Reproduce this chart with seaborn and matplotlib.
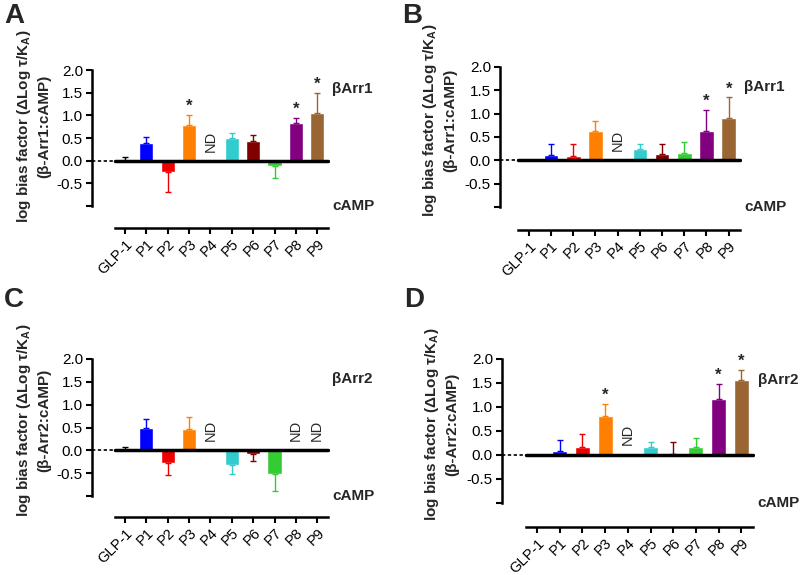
import numpy as np
import pandas as pd
import matplotlib
matplotlib.use("Agg")
import matplotlib.pyplot as plt
import seaborn as sns

# peptides and colours
categories = ["GLP-1", "P1", "P2", "P3", "P4", "P5", "P6", "P7", "P8", "P9"]
colors = ["#000000", "#0000FF", "#EE0000", "#FF8000", "#808080",
          "#33CCCC", "#800000", "#33CC33", "#800080", "#996633"]
nan = np.nan

# A: bArr1 vs cAMP (set 1)
a_mean = [0.0, 0.40, -0.25, 0.79, nan, 0.49, 0.43, -0.12, 0.84, 1.06]
a_err = [0.07, 0.13, 0.45, 0.22, nan, 0.13, 0.14, 0.27, 0.11, 0.43]
a_sig = ["P3", "P8", "P9"]
a_nd = ["P4"]

# B: bArr1 vs cAMP (set 2)
b_mean = [0.0, 0.11, 0.09, 0.63, nan, 0.24, 0.14, 0.16, 0.63, 0.90]
b_err = [0.0, 0.23, 0.27, 0.22, nan, 0.12, 0.20, 0.24, 0.45, 0.45]
b_sig = ["P8", "P9"]
b_nd = ["P4"]

# C: bArr2 vs cAMP (set 1)
c_mean = [0.0, 0.48, -0.28, 0.46, nan, -0.33, -0.07, -0.51, nan, nan]
c_err = [0.07, 0.20, 0.26, 0.28, nan, 0.18, 0.17, 0.37, nan, nan]
c_sig = []
c_nd = ["P4", "P8", "P9"]

# D: bArr2 vs cAMP (set 2)
d_mean = [0.0, 0.08, 0.16, 0.82, nan, 0.16, 0.03, 0.16, 1.17, 1.57]
d_err = [0.0, 0.23, 0.27, 0.24, nan, 0.12, 0.25, 0.19, 0.31, 0.21]
d_sig = ["P3", "P8", "P9"]
d_nd = ["P4"]

sns.set_style("ticks")
plt.rcParams["font.family"] = ["Liberation Sans", "DejaVu Sans"]
plt.rcParams["mathtext.fontset"] = "custom"
plt.rcParams["mathtext.rm"] = "Liberation Sans"
plt.rcParams["mathtext.bf"] = "Liberation Sans:bold"

W, H = 800, 575
fig = plt.figure(figsize=(8, 5.75), dpi=100)

# layout in pixels: left, top, right, bottom(y=-1), xleft, outward, ylabel centre, letter
panels = [
    ("A", a_mean, a_err, a_sig, a_nd, "1", (92, 70, 330, 206), -1.55, 22, (33, 126), (4, 3)),
    ("B", b_mean, b_err, b_sig, b_nd, "1", (500, 67, 742, 207), -1.30, 23, (439, 120), (402, 3)),
    ("C", c_mean, c_err, c_sig, c_nd, "2", (92, 359, 330, 496), -1.55, 21, (33, 420), (4, 287)),
    ("D", d_mean, d_err, d_sig, d_nd, "2", (502, 359, 755, 503), -1.54, 24, (441, 424), (404, 287)),
]

for letter, mean, err, sig, nd, arr, box, xleft, outward, ylab, lpos in panels:
    l, t, r, b = box
    ax = fig.add_axes([l / W, 1 - b / H, (r - l) / W, (b - t) / H])
    df = pd.DataFrame({"peptide": categories, "bias": mean})
    sns.barplot(data=df, x="peptide", y="bias", order=categories, hue="peptide",
                hue_order=categories, palette=dict(zip(categories, colors)),
                legend=False, errorbar=None, width=0.66, saturation=1, ax=ax)

    # one-sided error bars
    for i, (m, e) in enumerate(zip(mean, err)):
        if np.isnan(m) or e == 0:
            continue
        yerr = [[0], [e]] if m >= 0 else [[e], [0]]
        ax.errorbar(i, m, yerr=yerr, color=colors[i], lw=1, capsize=2.5,
                    capthick=1, zorder=1)
        if categories[i] in sig:
            ax.text(i, m + e + 0.02, "*", ha="center", va="bottom",
                    fontsize=12, fontweight="bold")
    for p in nd:
        ax.text(categories.index(p), 0.2, "ND", rotation=90, ha="center",
                va="bottom", fontsize=10.5)

    ax.plot([-0.47, 9.52], [0, 0], color="black", lw=2.5, zorder=5)
    ax.plot([xleft, -0.47], [0, 0], color="black", lw=1.2,
            linestyle=(0, (2, 1.5)), zorder=5)

    # spines first (set_position resets the ticks)
    for s in ["top", "right"]:
        ax.spines[s].set_visible(False)
    ax.spines["bottom"].set_position(("outward", outward * 0.72))
    ax.spines["left"].set_bounds(-1, 2)
    ax.spines["bottom"].set_bounds(-0.47, 9.52)
    for s in ["left", "bottom"]:
        ax.spines[s].set_linewidth(1.8)
        ax.spines[s].set_color("black")
    ax.patch.set_visible(False)

    ax.set_xlim(xleft, 9.6)
    ax.set_ylim(-1, 2)
    ax.set_yticks(np.arange(-1, 2.01, 0.5))
    ax.set_yticklabels(["", "-0.5", "0.0", "0.5", "1.0", "1.5", "2.0"])
    ax.set_xlabel("")
    ax.set_ylabel("")
    ax.set_xticks(range(len(categories)))
    ax.set_xticklabels(categories, rotation=45, ha="right", rotation_mode="anchor")
    ax.tick_params(axis="both", width=1.5, length=4.5, pad=2,
                   color="black", labelcolor="black")
    ax.tick_params(axis="y", labelsize=11)
    ax.tick_params(axis="x", labelsize=10.5)

    ax.text(1.01, 1.57, "\u03b2Arr" + arr, transform=ax.get_yaxis_transform(),
            fontsize=11, fontweight="bold", va="center", ha="left")
    ax.text(1.01, -1.0, "cAMP", transform=ax.get_yaxis_transform(),
            fontsize=11, fontweight="bold", va="center", ha="left")

    fig.text(ylab[0] / W, 1 - ylab[1] / H,
             "log bias factor (\u0394Log \u03c4/K$_\\mathbf{A}$)\n(\u03b2-Arr" + arr + ":cAMP)",
             rotation=90, ha="center", va="center", multialignment="center",
             fontsize=11, fontweight="bold", linespacing=1.45)
    fig.text(lpos[0] / W, 1 - lpos[1] / H, letter, ha="left", va="top",
             fontsize=20, fontweight="bold")

fig.savefig("out.png", dpi=100)
